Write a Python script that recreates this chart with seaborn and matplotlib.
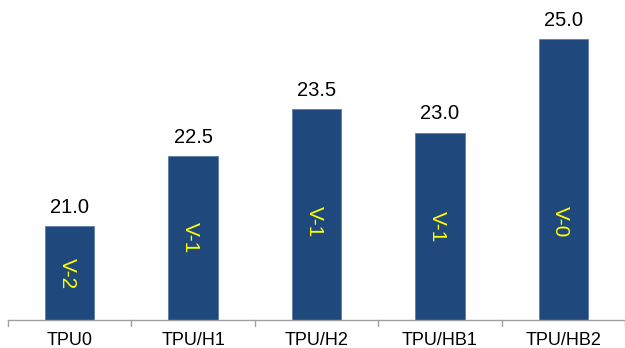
import matplotlib
matplotlib.use("Agg")
import matplotlib.pyplot as plt
import seaborn as sns
import pandas as pd

# Sample groups, measured values and their ratings
samples = ["TPU0", "TPU/H1", "TPU/H2", "TPU/HB1", "TPU/HB2"]
values = [21.0, 22.5, 23.5, 23.0, 25.0]
ratings = ["V-2", "V-1", "V-1", "V-1", "V-0"]

df = pd.DataFrame({"sample": samples, "value": values, "rating": ratings})

sns.set_theme(style="white")
plt.rcParams["font.family"] = ["Liberation Sans", "DejaVu Sans"]

fig = plt.figure(figsize=(6.25, 3.48), dpi=100)
ax = fig.add_axes([0.0128, 0.0805, 0.9872, 0.9195])

bar_color = "#1f497d"
sns.barplot(data=df, x="sample", y="value", color=bar_color, width=0.4,
            edgecolor="#5a7fa8", linewidth=0.6, saturation=1, ax=ax)

ymin, ymax = 19.0, 25.83
ax.set_ylim(ymin, ymax)
ax.set_xlim(-0.5, len(samples) - 0.5)

# value labels above bars, ratings inside bars
for i, (v, r) in enumerate(zip(values, ratings)):
    ax.text(i, v + 0.2, f"{v:.1f}", ha="center", va="bottom",
            fontsize=14.5, color="black")
    ypos = min((ymin + v) / 2, 21.1)
    ax.text(i - 0.02, ypos, r, ha="center", va="center", rotation=-90,
            fontsize=15, color="#ffff00")

# axes styling: only a grey baseline with boundary ticks
for side in ["left", "right", "top"]:
    ax.spines[side].set_visible(False)
ax.spines["bottom"].set_color("#a0a0a0")
ax.spines["bottom"].set_linewidth(1.0)
ax.set_yticks([])
ax.set_xlabel("")
ax.set_ylabel("")

ax.set_xticks(range(len(samples)))
ax.set_xticklabels(samples, fontsize=13, color="black")
ax.tick_params(axis="x", length=0, pad=9)
# boundary tick marks between categories
for b in [i - 0.5 for i in range(len(samples) + 1)]:
    ax.plot([b, b], [0, -0.02], transform=ax.get_xaxis_transform(),
            color="#a0a0a0", lw=1.0, clip_on=False)

fig.savefig("out.png", dpi=100)
